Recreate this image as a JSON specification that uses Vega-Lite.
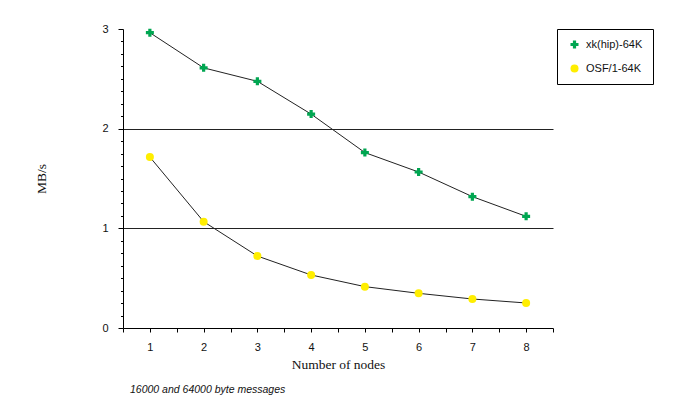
{
  "$schema": "https://vega.github.io/schema/vega-lite/v6.json",
  "width": 430,
  "height": 299,
  "autosize": {"type": "none"},
  "padding": {"left": 123, "top": 29, "right": 130, "bottom": 75},
  "background": "white",
  "title": {
    "text": "16000 and 64000 byte messages",
    "orient": "bottom",
    "anchor": "start",
    "frame": "group",
    "dx": 7,
    "offset": 14,
    "font": "Liberation Sans",
    "fontSize": 10.5,
    "fontStyle": "italic",
    "fontWeight": "normal",
    "color": "#111"
  },
  "data": {
    "values": [
      {"nodes": 1, "mbs": 2.963, "series": "xk(hip)-64K"},
      {"nodes": 2, "mbs": 2.61, "series": "xk(hip)-64K"},
      {"nodes": 3, "mbs": 2.475, "series": "xk(hip)-64K"},
      {"nodes": 4, "mbs": 2.146, "series": "xk(hip)-64K"},
      {"nodes": 5, "mbs": 1.76, "series": "xk(hip)-64K"},
      {"nodes": 6, "mbs": 1.565, "series": "xk(hip)-64K"},
      {"nodes": 7, "mbs": 1.318, "series": "xk(hip)-64K"},
      {"nodes": 8, "mbs": 1.12, "series": "xk(hip)-64K"},
      {"nodes": 1, "mbs": 1.715, "series": "OSF/1-64K"},
      {"nodes": 2, "mbs": 1.067, "series": "OSF/1-64K"},
      {"nodes": 3, "mbs": 0.722, "series": "OSF/1-64K"},
      {"nodes": 4, "mbs": 0.532, "series": "OSF/1-64K"},
      {"nodes": 5, "mbs": 0.415, "series": "OSF/1-64K"},
      {"nodes": 6, "mbs": 0.348, "series": "OSF/1-64K"},
      {"nodes": 7, "mbs": 0.291, "series": "OSF/1-64K"},
      {"nodes": 8, "mbs": 0.251, "series": "OSF/1-64K"}
    ]
  },
  "encoding": {
    "x": {
      "field": "nodes",
      "type": "quantitative",
      "scale": {"domain": [0.5, 8.5], "nice": false, "zero": false},
      "axis": {
        "title": "Number of nodes",
        "values": [0.5, 1, 1.5, 2, 2.5, 3, 3.5, 4, 4.5, 5, 5.5, 6, 6.5, 7, 7.5, 8, 8.5],
        "labelExpr": "datum.value % 1 === 0 ? format(datum.value, 'd') : ''",
        "grid": false,
        "tickSize": 4,
        "tickColor": "#000",
        "domainColor": "#000",
        "labelPadding": 9,
        "labelFont": "Liberation Sans",
        "labelFontSize": 11,
        "labelColor": "#111",
        "titleFont": "Liberation Serif",
        "titleFontSize": 13.5,
        "titleFontWeight": "normal",
        "titleColor": "#111",
        "titlePadding": 5
      }
    },
    "y": {
      "field": "mbs",
      "type": "quantitative",
      "scale": {"domain": [0, 3], "nice": false},
      "axis": {
        "title": "MB/s",
        "values": [0, 0.125, 0.25, 0.375, 0.5, 0.625, 0.75, 0.875, 1, 1.125, 1.25, 1.375, 1.5, 1.625, 1.75, 1.875, 2, 2.125, 2.25, 2.375, 2.5, 2.625, 2.75, 2.875, 3],
        "labelExpr": "datum.value % 1 === 0 ? format(datum.value, 'd') : ''",
        "tickSize": {"condition": {"test": "datum.value % 1 === 0", "value": 5}, "value": 2.5},
        "tickColor": "#000",
        "domainColor": "#000",
        "grid": true,
        "gridColor": "#222",
        "gridOpacity": {"condition": {"test": "datum.value === 1 || datum.value === 2", "value": 1}, "value": 0},
        "labelPadding": 10,
        "labelFont": "Liberation Sans",
        "labelFontSize": 11,
        "labelColor": "#111",
        "titleFont": "Liberation Serif",
        "titleFontSize": 13.5,
        "titleFontWeight": "normal",
        "titleColor": "#111",
        "titlePadding": 53
      }
    }
  },
  "layer": [
    {
      "mark": {"type": "line", "color": "#222", "strokeWidth": 1},
      "encoding": {"detail": {"field": "series"}}
    },
    {
      "mark": {"type": "point", "filled": true, "opacity": 1},
      "encoding": {
        "color": {
          "field": "series",
          "type": "nominal",
          "scale": {"domain": ["xk(hip)-64K", "OSF/1-64K"], "range": ["#00a651", "#ffee00"]},
          "legend": {
            "title": null,
            "orient": "none",
            "legendX": 434,
            "legendY": 0,
            "strokeColor": "#000",
            "fillColor": "white",
            "padding": 10,
            "rowPadding": 12,
            "labelFont": "Liberation Sans",
            "labelFontSize": 11,
            "labelColor": "#111",
            "labelOffset": 6,
            "symbolSize": 64,
            "symbolOffset": 2
          }
        },
        "shape": {
          "field": "series",
          "type": "nominal",
          "scale": {"domain": ["xk(hip)-64K", "OSF/1-64K"], "range": ["cross", "circle"]},
          "legend": null
        },
        "size": {"value": 64}
      }
    }
  ],
  "config": {"view": {"stroke": null}}
}
